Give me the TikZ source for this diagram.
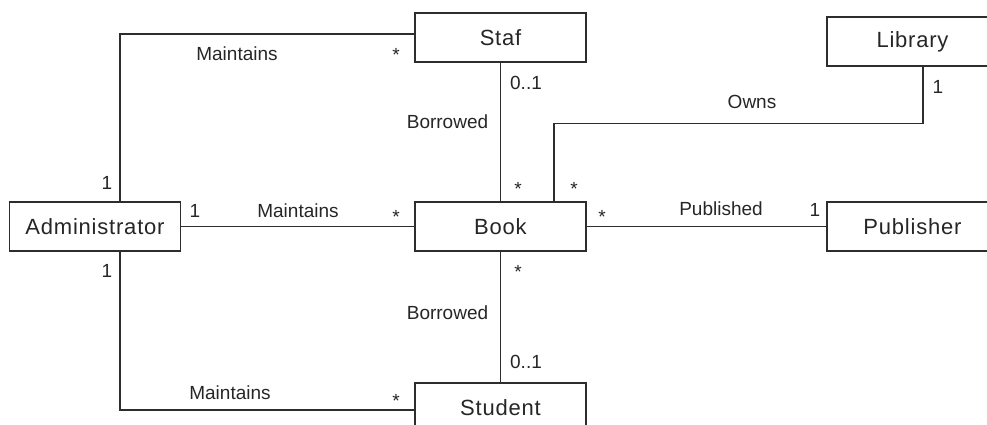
\documentclass[tikz,border=0pt]{standalone}
\usepackage{fontspec}
\setmainfont{Liberation Sans}
\newfontfamily\boxfont[LetterSpace=3.6]{Liberation Sans}
\usetikzlibrary{positioning,calc}

\begin{document}
\begin{tikzpicture}[x=10pt, y=-10pt,
    classbox/.style={draw=umlline, line width=1.2pt, fill=white, minimum width=171pt, minimum height=49pt, inner sep=0pt, text=black!85, font=\boxfont\fontsize{22}{26}\selectfont},
    assoc/.style={draw=umlline, line width=1.2pt},
    role/.style={inner sep=0pt, text=black!85, font=\fontsize{19}{22}\selectfont},
    many/.style={inner sep=0pt, anchor=north, text=black!85, font=\fontsize{19}{22}\selectfont}]
                \definecolor{umlline}{RGB}{45,45,45}
                \useasboundingbox (0,0) rectangle (98.7,42.5);

                % Classes
                \node[classbox] (admin) at (9.5, 22.65) {Administrator};
                \node[classbox] (staf) at (50.05, 3.75) {Staf};
                \node[classbox] (book) at (50.05, 22.65) {Book};
                \node[classbox] (student) at (50.05, 40.75) {Student};
                \node[classbox] (library) at (91.25, 4.15) {Library};
                \node[classbox] (publisher) at (91.25, 22.65) {Publisher};

                % Associations
                \draw[assoc] ([xshift=25pt]admin.north) |- ([yshift=3.5pt]staf.west);
                \draw[assoc] (admin.east) -- (book.west);
                \draw[assoc] ([xshift=25pt]admin.south) |- ([yshift=-2.5pt]student.west);
                \draw[assoc] (staf.south) -- (book.north);
                \draw[assoc] (book.south) -- (student.north);
                \draw[assoc] (book.east) -- (publisher.west);
                \draw[assoc] ([xshift=10.5pt]library.south) -- ++(0,5.7) -| ([xshift=53.5pt]book.north);

                % Association names
                \node[role] (mainstaf) at (23.7, 5.4) {Maintains};
                \node[role] (mainbook) at (29.8, 21.1) {Maintains};
                \node[role] (mainstud) at (23.0, 39.3) {Maintains};
                \node[role] (borrstaf) at (44.75, 12.2) {Borrowed};
                \node[role] (borrstud) at (44.75, 31.3) {Borrowed};
                \node[role] (owns) at (75.2, 10.2) {Owns};
                \node[role] (published) at (72.1, 20.9) {Published};

                % Multiplicities
                \node[role] (adminstafone) at (10.7, 18.3) {1};
                \node[role] (adminbookone) at (19.5, 21.1) {1};
                \node[role] (adminstudone) at (10.7, 27.1) {1};
                \node[role] (stafone) at (52.6, 8.3) {0..1};
                \node[role] (studone) at (52.6, 36.2) {0..1};
                \node[role] (libone) at (93.8, 8.7) {1};
                \node[role] (pubone) at (81.5, 21.0) {1};
                \node[many] (stafmany) at (39.6, 4.8) {*};
                \node[many] (bookmany) at (39.6, 21.0) {*};
                \node[many] (studmany) at (39.6, 39.4) {*};
                \node[many] (booktopmany) at (51.8, 18.2) {*};
                \node[many] (ownsmany) at (57.4, 18.2) {*};
                \node[many] (pubmany) at (60.2, 21.0) {*};
                \node[many] (bookbotmany) at (51.8, 26.5) {*};
\end{tikzpicture}
\end{document}
